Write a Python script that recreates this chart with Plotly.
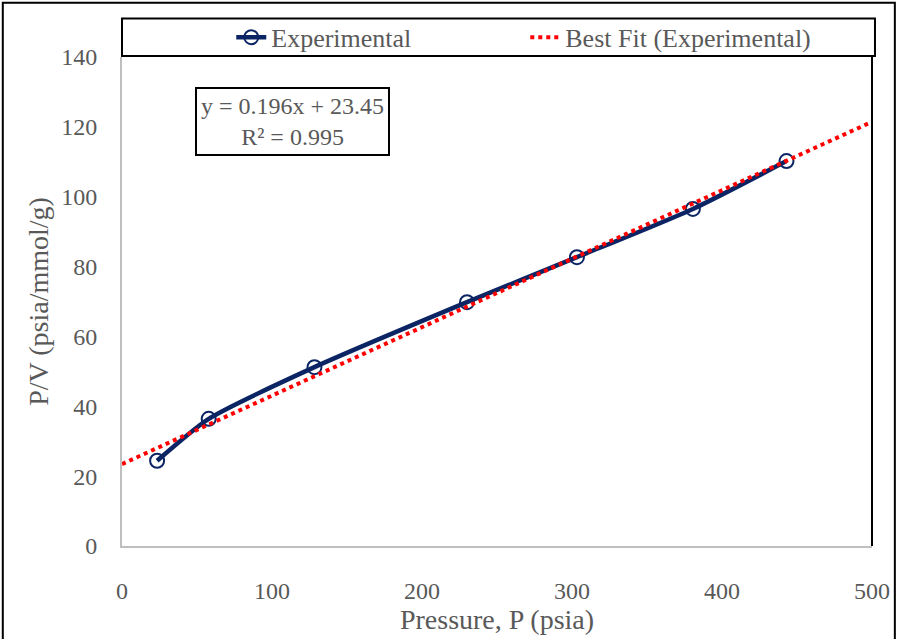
import plotly.graph_objects as go

# Measured adsorption data: pressure (psia) and P/V (psia/(mmol/g))
pressure = [23.4, 57.8, 128.3, 230.0, 303.3, 380.6, 443.0]
p_over_v = [24.4, 36.4, 51.2, 69.8, 82.7, 96.5, 110.2]

# Linear best-fit parameters
FIT_SLOPE = 0.196
FIT_INTERCEPT = 23.45
FIT_R2 = 0.995
fit_x = [0, 500]
fit_y = [FIT_SLOPE * x + FIT_INTERCEPT for x in fit_x]

x_ticks = [0, 100, 200, 300, 400, 500]
y_ticks = [0, 20, 40, 60, 80, 100, 120, 140]

FONT = "Liberation Serif"
GREY = "#595959"
NAVY = "#0B2463"

W, H = 902, 639
ML, MR, MT, MB = 122, 25, 57, 86
PW, PH = W - ML - MR, H - MT - MB


def px_x(p):
    return (p - ML) / PW


def px_y(p):
    return (H - MB - p) / PH


fig = go.Figure()

fig.add_trace(go.Scatter(
    x=pressure, y=p_over_v, mode="lines+markers", name="Experimental",
    line=dict(color=NAVY, width=4.5, shape="spline", smoothing=0.6),
    marker=dict(symbol="circle-open", size=14, color=NAVY, line=dict(width=2, color=NAVY)),
))

fig.add_trace(go.Scatter(
    x=fit_x, y=fit_y, mode="lines", name="Best Fit (Experimental)",
    line=dict(color="#FF0000", width=4, dash="4px,4px"),
))

shapes = [
    # outer chart border
    dict(type="rect", xref="paper", yref="paper",
         x0=px_x(2), x1=px_x(900), y0=px_y(660), y1=px_y(2),
         line=dict(color="black", width=2), fillcolor="rgba(0,0,0,0)", layer="below"),
    # legend frame
    dict(type="rect", xref="paper", yref="paper",
         x0=px_x(122), x1=px_x(880), y0=px_y(56), y1=px_y(18),
         line=dict(color="black", width=2), fillcolor="white", layer="above"),
    # right edge of plot area
    dict(type="line", xref="paper", yref="paper",
         x0=1, x1=1, y0=0, y1=1, line=dict(color="black", width=2), layer="above"),
]

fig.update_layout(
    width=W, height=H,
    margin=dict(l=ML, r=MR, t=MT, b=MB),
    paper_bgcolor="white", plot_bgcolor="white",
    font=dict(family=FONT, color=GREY, size=24),
    shapes=shapes,
    showlegend=True,
    legend=dict(
        orientation="h", x=px_x(232), xanchor="left", y=px_y(37), yanchor="middle",
        entrywidth=249, entrywidthmode="pixels",
        bgcolor="rgba(0,0,0,0)", borderwidth=0, font=dict(family=FONT, size=26, color=GREY),
    ),
    annotations=[
        dict(
            xref="paper", yref="paper", x=px_x(294), y=px_y(122),
            xanchor="center", yanchor="middle",
            text=f"y = {FIT_SLOPE}x + {FIT_INTERCEPT}<br>R² = {FIT_R2}",
            showarrow=False, align="center",
            font=dict(family=FONT, size=24, color=GREY),
            bordercolor="black", borderwidth=2, borderpad=4, bgcolor="white",
        )
    ],
)

fig.update_xaxes(
    range=[0, 500], tickvals=x_ticks, showgrid=False, zeroline=False,
    showline=True, linecolor="#BFBFBF", linewidth=2, ticks="",
    ticklabelstandoff=22, tickfont=dict(family=FONT, size=24, color=GREY),
    title=dict(text="Pressure, P (psia)", font=dict(family=FONT, size=28, color=GREY), standoff=4),
)
fig.update_yaxes(
    range=[0, 140], tickvals=y_ticks, showgrid=False, zeroline=False,
    showline=True, linecolor="#BFBFBF", linewidth=2, ticks="",
    ticklabelstandoff=18, tickfont=dict(family=FONT, size=24, color=GREY),
    title=dict(text="P/V (psia/mmol/g)", font=dict(family=FONT, size=28, color=GREY), standoff=4),
)

fig.write_html("out.html")
